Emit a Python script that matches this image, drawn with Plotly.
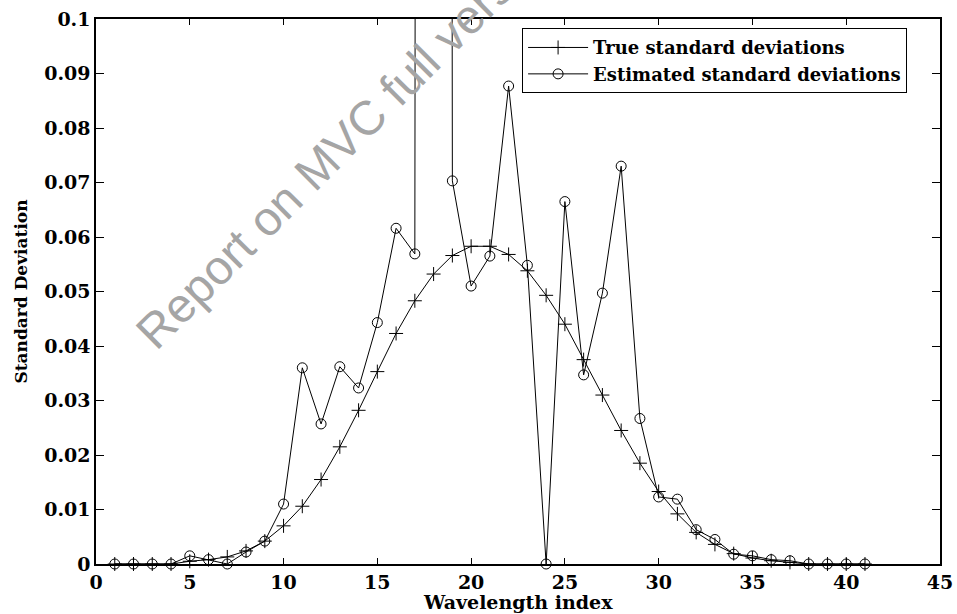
import plotly.graph_objects as go

wavelength_index = list(range(1, 42))

true_std = [0, 0, 0, 0, 0.0005, 0.0008, 0.0013, 0.0024, 0.0042, 0.0070,
            0.0106, 0.0155, 0.0215, 0.0282, 0.0353, 0.0423, 0.0483, 0.0532, 0.0566, 0.0583,
            0.0583, 0.0568, 0.0538, 0.0493, 0.0440, 0.0375, 0.0310, 0.0245, 0.0185, 0.0133,
            0.0092, 0.0058, 0.0036, 0.0019, 0.0011, 0.0006, 0.0003, 0, 0, 0, 0]

estimated_std = [0, 0, 0, 0, 0.0015, 0.0008, 0, 0.0022, 0.0042, 0.0110,
                 0.0360, 0.0257, 0.0362, 0.0323, 0.0443, 0.0616, 0.0569, 3.0, 0.0703, 0.0510,
                 0.0565, 0.0877, 0.0548, 0, 0.0665, 0.0347, 0.0497, 0.0730, 0.0267, 0.0123,
                 0.0119, 0.0063, 0.0045, 0.0018, 0.0015, 0.0008, 0.0006, 0, 0, 0, 0]

x_ticks = [0, 5, 10, 15, 20, 25, 30, 35, 40, 45]
y_ticks = [0, 0.01, 0.02, 0.03, 0.04, 0.05, 0.06, 0.07, 0.08, 0.09, 0.1]
y_tick_labels = ["0", "0.01", "0.02", "0.03", "0.04", "0.05", "0.06", "0.07", "0.08", "0.09", "0.1"]

FONT = "DejaVu Serif"

fig = go.Figure()
fig.add_trace(go.Scatter(
    x=wavelength_index, y=true_std, mode="lines+markers",
    name="<b>True standard deviations</b>",
    line=dict(color="black", width=1),
    marker=dict(symbol="cross-thin-open", size=10, color="black", line=dict(width=1, color="black")),
    cliponaxis=False,
))
fig.add_trace(go.Scatter(
    x=wavelength_index, y=estimated_std, mode="lines+markers",
    name="<b>Estimated standard deviations</b>",
    line=dict(color="black", width=1),
    marker=dict(symbol="circle-open", size=10, color="black", line=dict(width=1, color="black")),
    cliponaxis=False,
))

fig.update_layout(
    width=957, height=614,
    margin=dict(l=96, r=17, t=19, b=50, autoexpand=False),
    paper_bgcolor="white", plot_bgcolor="white",
    font=dict(family=FONT, color="black", size=19),
    showlegend=True,
    legend=dict(
        x=0.961, y=0.983, xanchor="right", yanchor="top",
        bgcolor="white", bordercolor="black", borderwidth=1,
        font=dict(family=FONT, size=18, color="black"),
        tracegroupgap=0, itemwidth=60,
    ),
)
fig.update_xaxes(
    range=[0, 45], tickvals=x_ticks, ticktext=[f"<b>{t}</b>" for t in x_ticks],
    ticks="inside", ticklen=6, tickwidth=1, tickcolor="black",
    showline=True, linecolor="black", linewidth=1.5, mirror="ticks",
    showgrid=False, zeroline=False, automargin=False,
    tickfont=dict(family=FONT, size=19),
)
fig.update_yaxes(
    range=[0, 0.1], tickvals=y_ticks, ticktext=[f"<b>{t}</b>" for t in y_tick_labels],
    ticks="inside", ticklen=8, tickwidth=1, tickcolor="black",
    showline=True, linecolor="black", linewidth=1.5, mirror="ticks",
    showgrid=False, zeroline=False, automargin=False,
    tickfont=dict(family=FONT, size=19),
)

fig.add_annotation(
    text="<b>Wavelength index</b>", xref="paper", yref="paper",
    x=0.5, y=-0.0697, xanchor="center", yanchor="middle", showarrow=False,
    font=dict(family=FONT, size=19, color="black"),
)
fig.add_annotation(
    text="<b>Standard Deviation</b>", xref="paper", yref="paper",
    x=-0.09, y=0.5, xanchor="center", yanchor="middle", showarrow=False, textangle=-90,
    font=dict(family=FONT, size=17, color="black"),
)

fig.add_annotation(
    text="Report on MVC full version", xref="paper", yref="paper",
    x=0.298, y=0.782, xanchor="center", yanchor="middle", showarrow=False, textangle=-45,
    font=dict(family="Liberation Sans", size=48, color="rgb(165,165,165)"),
)

fig.write_html(
    "out.html",
    config={"displayModeBar": False},
    post_script="document.body.style.margin='0';document.body.style.padding='0';",
)
